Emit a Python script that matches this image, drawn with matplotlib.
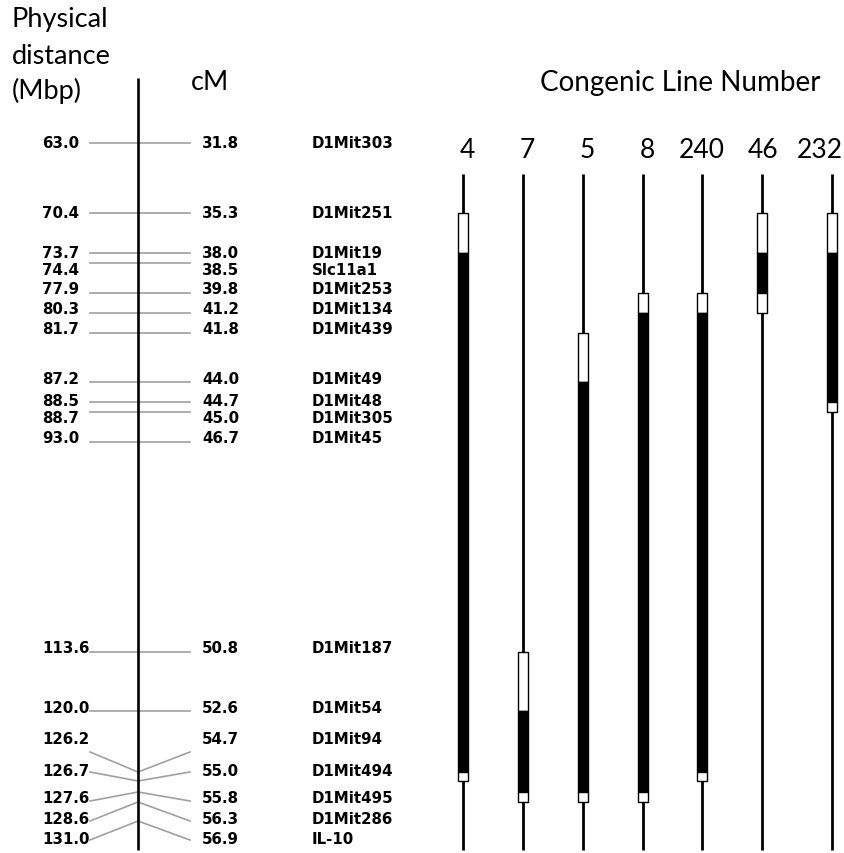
import matplotlib
matplotlib.use("Agg")
import matplotlib.pyplot as plt
from matplotlib.patches import Rectangle

# marker data
mbp = ["63.0", "70.4", "73.7", "74.4", "77.9", "80.3", "81.7", "87.2", "88.5",
       "88.7", "93.0", "113.6", "120.0", "126.2", "126.7", "127.6", "128.6", "131.0"]
cm = ["31.8", "35.3", "38.0", "38.5", "39.8", "41.2", "41.8", "44.0", "44.7",
      "45.0", "46.7", "50.8", "52.6", "54.7", "55.0", "55.8", "56.3", "56.9"]
markers = ["D1Mit303", "D1Mit251", "D1Mit19", "Slc11a1", "D1Mit253", "D1Mit134",
           "D1Mit439", "D1Mit49", "D1Mit48", "D1Mit305", "D1Mit45", "D1Mit187",
           "D1Mit54", "D1Mit94", "D1Mit494", "D1Mit495", "D1Mit286", "IL-10"]

# congenic lines: (from Mbp, to Mbp, colour) white = flanking, black = donor
lines = ["4", "7", "5", "8", "240", "46", "232"]
segments = {
    "4":   [("70.4", "73.7", "w"), ("73.7", "126.2", "k"), ("126.2", "126.7", "w")],
    "7":   [("113.6", "120.0", "w"), ("120.0", "127.6", "k"), ("127.6", "128.6", "w")],
    "5":   [("81.7", "87.2", "w"), ("87.2", "127.6", "k"), ("127.6", "128.6", "w")],
    "8":   [("77.9", "80.3", "w"), ("80.3", "127.6", "k"), ("127.6", "128.6", "w")],
    "240": [("77.9", "80.3", "w"), ("80.3", "126.2", "k"), ("126.2", "126.7", "w")],
    "46":  [("70.4", "73.7", "w"), ("73.7", "77.9", "k"), ("77.9", "80.3", "w")],
    "232": [("70.4", "73.7", "w"), ("73.7", "88.5", "k"), ("88.5", "88.7", "w")],
}

# layout (pixel coords of the schematic)
chrom_y = [144, 214, 254, 264, 294, 314, 334, 383, 403, 413, 443, 653, 712,
           773, 782, 793, 803, 822]
end_y = [144, 214, 254, 264, 294, 314, 334, 383, 403, 413, 443, 653, 712,
         753, 773, 802, 822, 841]
label_y = [144, 214, 253, 271, 290, 310, 330, 380, 402, 419, 439, 649, 709,
           740, 772, 799, 820, 840]
col_x = [463, 523, 583, 643, 702, 762, 832]
num_x = [467, 527, 587, 647, 702, 763, 820]
ypos = dict(zip(mbp, chrom_y))

fig = plt.figure(figsize=(8.44, 8.54), dpi=100)
ax = fig.add_axes([0, 0, 1, 1])
ax.set_xlim(0, 844)
ax.set_ylim(854, 0)
ax.axis("off")

head = dict(family="Lato", fontsize=19.5, color="black")
ax.text(12, 20, "Physical", va="center", ha="left", **head)
ax.text(12, 56, "distance", va="center", ha="left", **head)
ax.text(12, 91, "(Mbp)", va="center", ha="left", **head)
ax.text(191, 82, "cM", va="center", ha="left", **head)
ax.text(680, 83, "Congenic Line Number", va="center", ha="center", family="Lato",
        fontsize=20, color="black")

# chromosome
ax.plot([138, 138], [79, 851], color="black", lw=1.9, solid_capstyle="butt", zorder=3)

lab = dict(family="DejaVu Sans", fontweight="bold", fontsize=10.8, color="black", va="center")
for i in range(len(mbp)):
    ax.plot([90, 138, 190], [end_y[i], chrom_y[i], end_y[i]], color="#a0a0a0", lw=1.2, zorder=2)
    ax.text(42, label_y[i], mbp[i], ha="left", **lab)
    ax.text(202, label_y[i], cm[i], ha="left", **lab)
    ax.text(312, label_y[i], markers[i], ha="left", **lab)

# congenic lines
w = 10
for x, nx, name in zip(col_x, num_x, lines):
    ax.text(nx, 150, name, ha="center", va="center", family="Lato", fontsize=19, color="black")
    ax.plot([x, x], [175, 851], color="black", lw=2.0, solid_capstyle="butt", zorder=2)
    for a, b, c in segments[name]:
        y0, y1 = ypos[a], ypos[b]
        ax.add_patch(Rectangle((x - w / 2, y0), w, y1 - y0,
                               facecolor="black" if c == "k" else "white",
                               edgecolor="black", lw=1.0, zorder=4))

fig.savefig("out.png", dpi=100)
